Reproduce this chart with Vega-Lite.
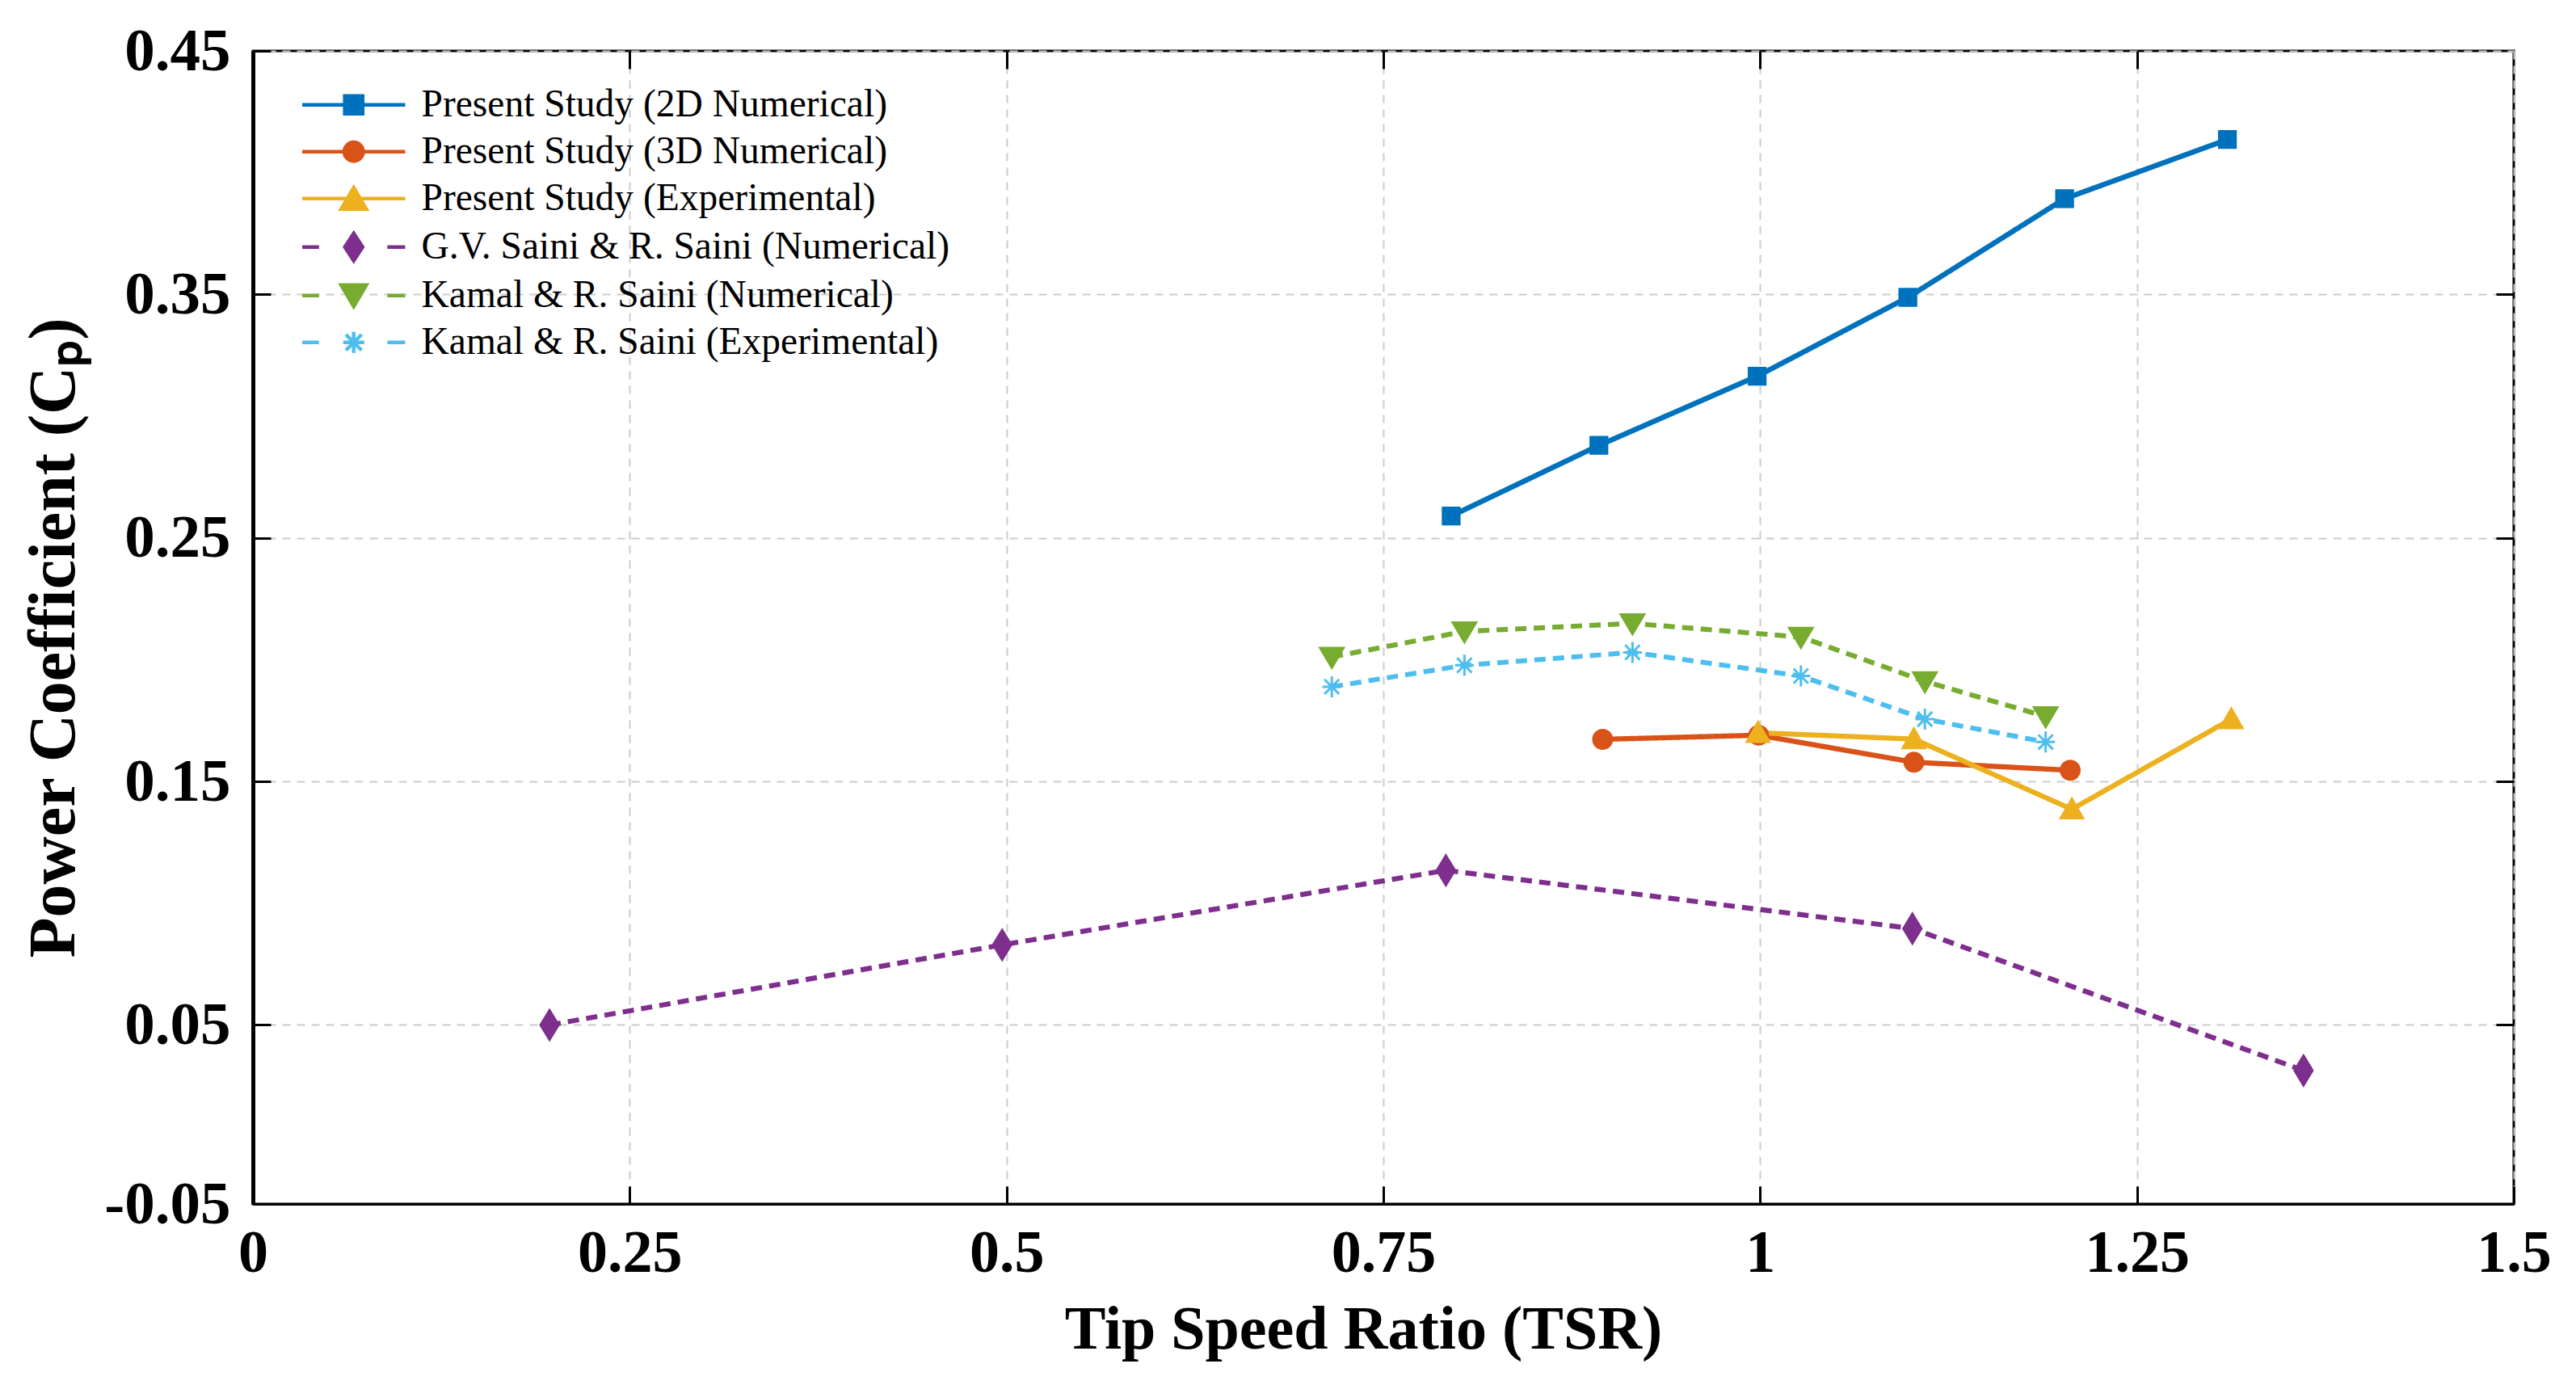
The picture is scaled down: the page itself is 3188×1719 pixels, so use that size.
{
  "$schema": "https://vega.github.io/schema/vega-lite/v6.json",
  "width": 2798,
  "height": 1427,
  "autosize": {"type": "none"},
  "padding": {"left": 313, "top": 63, "right": 77, "bottom": 229},
  "background": "white",
  "config": {
    "view": {"stroke": "black", "strokeWidth": 3},
    "font": "Liberation Serif"
  },
  "data": {
    "values": [
      {"series": "Present Study (2D Numerical)", "tsr": 0.795, "cp": 0.259},
      {"series": "Present Study (2D Numerical)", "tsr": 0.893, "cp": 0.288},
      {"series": "Present Study (2D Numerical)", "tsr": 0.998, "cp": 0.3164},
      {"series": "Present Study (2D Numerical)", "tsr": 1.098, "cp": 0.3488},
      {"series": "Present Study (2D Numerical)", "tsr": 1.202, "cp": 0.3893},
      {"series": "Present Study (2D Numerical)", "tsr": 1.31, "cp": 0.4136},
      {"series": "Present Study (3D Numerical)", "tsr": 0.8955, "cp": 0.1673},
      {"series": "Present Study (3D Numerical)", "tsr": 0.999, "cp": 0.169},
      {"series": "Present Study (3D Numerical)", "tsr": 1.102, "cp": 0.1579},
      {"series": "Present Study (3D Numerical)", "tsr": 1.2057, "cp": 0.1546},
      {"series": "Present Study (Experimental)", "tsr": 0.9986, "cp": 0.170},
      {"series": "Present Study (Experimental)", "tsr": 1.102, "cp": 0.1674},
      {"series": "Present Study (Experimental)", "tsr": 1.2068, "cp": 0.1386},
      {"series": "Present Study (Experimental)", "tsr": 1.3126, "cp": 0.1756},
      {"series": "G.V. Saini & R. Saini (Numerical)", "tsr": 0.1968, "cp": 0.050},
      {"series": "G.V. Saini & R. Saini (Numerical)", "tsr": 0.4971, "cp": 0.0829},
      {"series": "G.V. Saini & R. Saini (Numerical)", "tsr": 0.7915, "cp": 0.1135},
      {"series": "G.V. Saini & R. Saini (Numerical)", "tsr": 1.101, "cp": 0.0896},
      {"series": "G.V. Saini & R. Saini (Numerical)", "tsr": 1.3605, "cp": 0.0313},
      {"series": "Kamal & R. Saini (Numerical)", "tsr": 0.7158, "cp": 0.2011},
      {"series": "Kamal & R. Saini (Numerical)", "tsr": 0.8038, "cp": 0.2116},
      {"series": "Kamal & R. Saini (Numerical)", "tsr": 0.9153, "cp": 0.2149},
      {"series": "Kamal & R. Saini (Numerical)", "tsr": 1.027, "cp": 0.2093},
      {"series": "Kamal & R. Saini (Numerical)", "tsr": 1.1093, "cp": 0.1911},
      {"series": "Kamal & R. Saini (Numerical)", "tsr": 1.1894, "cp": 0.1767},
      {"series": "Kamal & R. Saini (Experimental)", "tsr": 0.7158, "cp": 0.1889},
      {"series": "Kamal & R. Saini (Experimental)", "tsr": 0.8038, "cp": 0.1977},
      {"series": "Kamal & R. Saini (Experimental)", "tsr": 0.9153, "cp": 0.203},
      {"series": "Kamal & R. Saini (Experimental)", "tsr": 1.027, "cp": 0.1933},
      {"series": "Kamal & R. Saini (Experimental)", "tsr": 1.1093, "cp": 0.1756},
      {"series": "Kamal & R. Saini (Experimental)", "tsr": 1.1894, "cp": 0.1662}
    ]
  },
  "layer": [
    {
      "mark": {"type": "line"},
      "encoding": {
        "x": {
          "field": "tsr",
          "type": "quantitative",
          "scale": {"domain": [0, 1.5], "nice": false, "zero": false},
          "axis": {
            "orient": "bottom",
            "values": [0, 0.25, 0.5, 0.75, 1, 1.25, 1.5],
            "labelExpr": "'' + datum.value",
            "labelFlush": false,
            "labelOverlap": false,
            "grid": true,
            "gridDash": [10, 8],
            "gridColor": "#cccccc",
            "gridWidth": 2,
            "ticks": true,
            "tickSize": -22,
            "tickColor": "black",
            "tickWidth": 3,
            "domain": true,
            "domainColor": "black",
            "domainWidth": 3,
            "labelFont": "Liberation Serif",
            "labelFontWeight": "bold",
            "labelFontSize": 74,
            "labelColor": "black",
            "labelPadding": 47,
            "title": "Tip Speed Ratio (TSR)",
            "titleFont": "Liberation Serif",
            "titleFontWeight": "bold",
            "titleFontSize": 76,
            "titleColor": "black",
            "titlePadding": 20,
            "titleX": 1374
          }
        },
        "y": {
          "field": "cp",
          "type": "quantitative",
          "scale": {"domain": [-0.0235, 0.45], "nice": false, "zero": false},
          "axis": {
            "orient": "left",
            "values": [-0.0235, 0.05, 0.15, 0.25, 0.35, 0.45],
            "labelExpr": "datum.value < 0 ? '-0.05' : format(datum.value, '.2f')",
            "labelOverlap": false,
            "grid": true,
            "gridDash": [10, 8],
            "gridColor": "#cccccc",
            "gridWidth": 2,
            "ticks": true,
            "tickSize": -22,
            "tickColor": "black",
            "tickWidth": 3,
            "domain": true,
            "domainColor": "black",
            "domainWidth": 5,
            "labelFont": "Liberation Serif",
            "labelFontWeight": "bold",
            "labelFontSize": 75,
            "labelColor": "black",
            "labelPadding": 50,
            "title": "Power Coefficient (Cₚ)",
            "titleFont": "Liberation Serif",
            "titleFontWeight": "bold",
            "titleFontSize": 82,
            "titleColor": "black",
            "titlePadding": 20,
            "titleY": 726
          }
        },
        "color": {
          "field": "series",
          "type": "nominal",
          "scale": {
            "domain": ["Present Study (2D Numerical)", "Present Study (3D Numerical)", "Present Study (Experimental)", "G.V. Saini & R. Saini (Numerical)", "Kamal & R. Saini (Numerical)", "Kamal & R. Saini (Experimental)"],
            "range": ["#0072BD", "#D95319", "#EDB120", "#7E2F8E", "#77AC30", "#4DBEEE"]
          },
          "legend": null
        },
        "strokeDash": {
          "field": "series",
          "type": "nominal",
          "scale": {
            "domain": ["Present Study (2D Numerical)", "Present Study (3D Numerical)", "Present Study (Experimental)", "G.V. Saini & R. Saini (Numerical)", "Kamal & R. Saini (Numerical)", "Kamal & R. Saini (Experimental)"],
            "range": [[1, 0], [1, 0], [1, 0], [14, 9], [14, 9], [14, 9]]
          },
          "legend": null
        },
        "strokeWidth": {
          "field": "series",
          "type": "nominal",
          "scale": {
            "domain": ["Present Study (2D Numerical)", "Present Study (3D Numerical)", "Present Study (Experimental)", "G.V. Saini & R. Saini (Numerical)", "Kamal & R. Saini (Numerical)", "Kamal & R. Saini (Experimental)"],
            "range": [6.5, 6, 4, 3.5, 3.5, 3.5]
          },
          "legend": null
        }
      }
    },
    {
      "mark": {"type": "point", "filled": true, "opacity": 1, "strokeWidth": 3, "size": 676},
      "encoding": {
        "x": {
          "field": "tsr",
          "type": "quantitative",
          "axis": {
            "orient": "top",
            "values": [0.25, 0.5, 0.75, 1, 1.25],
            "labels": false,
            "title": null,
            "grid": false,
            "domain": false,
            "tickSize": -22,
            "tickColor": "black",
            "tickWidth": 3
          }
        },
        "y": {
          "field": "cp",
          "type": "quantitative",
          "axis": {
            "orient": "right",
            "values": [0.05, 0.15, 0.25, 0.35],
            "labels": false,
            "title": null,
            "grid": false,
            "domain": false,
            "tickSize": -22,
            "tickColor": "black",
            "tickWidth": 3
          }
        },
        "fill": {
          "field": "series",
          "type": "nominal",
          "scale": {
            "domain": ["Present Study (2D Numerical)", "Present Study (3D Numerical)", "Present Study (Experimental)", "G.V. Saini & R. Saini (Numerical)", "Kamal & R. Saini (Numerical)", "Kamal & R. Saini (Experimental)"],
            "range": ["#0072BD", "#D95319", "#EDB120", "#7E2F8E", "#77AC30", "#4DBEEE"]
          },
          "legend": null
        },
        "stroke": {
          "field": "series",
          "type": "nominal",
          "scale": {
            "domain": ["Present Study (2D Numerical)", "Present Study (3D Numerical)", "Present Study (Experimental)", "G.V. Saini & R. Saini (Numerical)", "Kamal & R. Saini (Numerical)", "Kamal & R. Saini (Experimental)"],
            "range": ["#0072BD", "#D95319", "#EDB120", "#7E2F8E", "#77AC30", "#4DBEEE"]
          },
          "legend": null
        },
        "shape": {
          "field": "series",
          "type": "nominal",
          "scale": {
            "domain": ["Present Study (2D Numerical)", "Present Study (3D Numerical)", "Present Study (Experimental)", "G.V. Saini & R. Saini (Numerical)", "Kamal & R. Saini (Numerical)", "Kamal & R. Saini (Experimental)"],
            "range": [
              "M-0.78,-0.78H0.78V0.78H-0.78Z",
              "M-0.88,0A0.88,0.88,0,1,0,0.88,0A0.88,0.88,0,1,0,-0.88,0Z",
              "M0,-1L1.05,0.85L-1.05,0.85Z",
              "M0,-1.4L0.85,0L0,1.4L-0.85,0Z",
              "M0,1L1.1,-0.85L-1.1,-0.85Z",
              "M0,-1V1M-0.9,0H0.9M-0.7,-0.7L0.7,0.7M-0.7,0.7L0.7,-0.7"
            ]
          },
          "legend": null
        }
      }
    },
    {
      "transform": [{"filter": "false"}],
      "mark": {"type": "point", "filled": true, "opacity": 1},
      "encoding": {
        "fill": {
          "field": "series",
          "type": "nominal",
          "scale": {
            "domain": ["Present Study (2D Numerical)", "Present Study (3D Numerical)", "Present Study (Experimental)", "G.V. Saini & R. Saini (Numerical)", "Kamal & R. Saini (Numerical)", "Kamal & R. Saini (Experimental)"],
            "range": ["#0072BD", "#D95319", "#EDB120", "#7E2F8E", "#77AC30", "#4DBEEE"]
          },
          "legend": {
            "title": null, "orient": "none", "direction": "vertical", "legendX": 101, "legendY": 43,
            "labelFont": "Liberation Serif", "labelFontSize": 47.5, "labelColor": "black", "labelLimit": 2000,
            "labelOffset": 60, "symbolSize": 676, "symbolStrokeWidth": 4.5, "symbolOpacity": 1, "rowPadding": 9, "padding": 0
          }
        },
        "stroke": {
          "field": "series",
          "type": "nominal",
          "scale": {
            "domain": ["Present Study (2D Numerical)", "Present Study (3D Numerical)", "Present Study (Experimental)", "G.V. Saini & R. Saini (Numerical)", "Kamal & R. Saini (Numerical)", "Kamal & R. Saini (Experimental)"],
            "range": ["#0072BD", "#D95319", "#EDB120", "#7E2F8E", "#77AC30", "#4DBEEE"]
          },
          "legend": {
            "title": null, "orient": "none", "direction": "vertical", "legendX": 101, "legendY": 43,
            "labelFont": "Liberation Serif", "labelFontSize": 47.5, "labelColor": "black", "labelLimit": 2000,
            "labelOffset": 60, "symbolSize": 676, "symbolStrokeWidth": 4.5, "symbolOpacity": 1, "rowPadding": 9, "padding": 0
          }
        },
        "shape": {
          "field": "series",
          "type": "nominal",
          "scale": {
            "domain": ["Present Study (2D Numerical)", "Present Study (3D Numerical)", "Present Study (Experimental)", "G.V. Saini & R. Saini (Numerical)", "Kamal & R. Saini (Numerical)", "Kamal & R. Saini (Experimental)"],
            "range": [
              "M-4.9,0H4.9M-0.85,-0.85H0.85V0.85H-0.85Z",
              "M-4.9,0H4.9M-0.9,0A0.9,0.9,0,1,0,0.9,0A0.9,0.9,0,1,0,-0.9,0Z",
              "M-4.9,0H4.9M0,-1.05L1.2,1L-1.2,1Z",
              "M-4.9,0H-3.3M3.2,0H4.9M0,-1.3L0.85,0L0,1.3L-0.85,0Z",
              "M-4.9,0H-3.3M3.2,0H4.9M0,1.05L1.2,-1L-1.2,-1Z",
              "M-4.9,0H-3.3M3.2,0H4.9M0,-1V1M-1,0H1M-0.75,-0.75L0.75,0.75M-0.75,0.75L0.75,-0.75"
            ]
          },
          "legend": {
            "title": null, "orient": "none", "direction": "vertical", "legendX": 101, "legendY": 43,
            "labelFont": "Liberation Serif", "labelFontSize": 47.5, "labelColor": "black", "labelLimit": 2000,
            "labelOffset": 60, "symbolSize": 676, "symbolStrokeWidth": 4.5, "symbolOpacity": 1, "rowPadding": 9, "padding": 0
          }
        }
      }
    }
  ],
  "resolve": {
    "scale": {"fill": "independent", "stroke": "independent", "shape": "independent"},
    "axis": {"x": "independent", "y": "independent"}
  }
}
